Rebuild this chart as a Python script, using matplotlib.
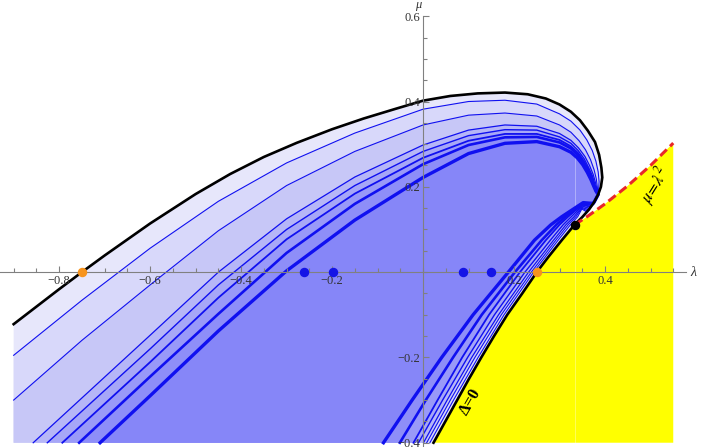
import numpy as np
import matplotlib
matplotlib.use('Agg')
import matplotlib.pyplot as plt

plt.rcParams['mathtext.fontset'] = 'stix'

# outer boundary (black): left edge -> top -> right side -> down along Delta=0
black_lam = [-0.90, -0.80, -0.75, -0.70, -0.60, -0.50, -0.424, -0.35, -0.278, -0.20, -0.131, -0.06,
             0.0, 0.06, 0.12, 0.18, 0.23, 0.27, 0.30, 0.325, 0.345, 0.362, 0.378, 0.387, 0.392,
             0.394, 0.391, 0.385, 0.376, 0.365, 0.350, 0.333,
             0.305, 0.275, 0.25, 0.218, 0.185, 0.156, 0.128, 0.101, 0.075, 0.049, 0.023]
black_mu = [-0.122, -0.040, 0.0, 0.039, 0.114, 0.183, 0.230, 0.270, 0.303, 0.335, 0.360, 0.383,
            0.402, 0.413, 0.419, 0.421, 0.417, 0.407, 0.393, 0.376, 0.356, 0.332, 0.305, 0.275, 0.245,
            0.222, 0.200, 0.182, 0.164, 0.147, 0.129, 0.111,
            0.075, 0.035, 0.0, -0.05, -0.10, -0.15, -0.20, -0.25, -0.30, -0.35, -0.40]

# blue contours, upper arcs (left/bottom edge -> top -> right side, ending on the black curve)
up_lam = [
    [-0.90, -0.75, -0.60, -0.45, -0.30, -0.15, 0.0, 0.10, 0.18, 0.25, 0.30, 0.325, 0.345, 0.36, 0.372, 0.380, 0.385, 0.387, 0.386, 0.385, 0.376],
    [-0.90, -0.75, -0.60, -0.45, -0.30, -0.15, 0.0, 0.10, 0.18, 0.25, 0.30, 0.325, 0.343, 0.357, 0.368, 0.376, 0.381, 0.383, 0.385, 0.376],
    [-0.857, -0.60, -0.45, -0.30, -0.15, 0.0, 0.10, 0.18, 0.25, 0.30, 0.325, 0.342, 0.356, 0.366, 0.374, 0.379, 0.382, 0.385, 0.376],
    [-0.826, -0.60, -0.45, -0.30, -0.15, 0.0, 0.10, 0.18, 0.25, 0.30, 0.325, 0.341, 0.354, 0.364, 0.372, 0.377, 0.381, 0.385, 0.376],
    [-0.793, -0.60, -0.45, -0.30, -0.15, 0.0, 0.10, 0.18, 0.25, 0.30, 0.325, 0.341, 0.353, 0.363, 0.371, 0.376, 0.380, 0.385, 0.376],
    [-0.756, -0.60, -0.45, -0.30, -0.15, 0.0, 0.10, 0.18, 0.25, 0.30, 0.325, 0.340, 0.352, 0.362, 0.370, 0.375, 0.380, 0.385, 0.376],
    [-0.71, -0.60, -0.45, -0.30, -0.15, 0.0, 0.10, 0.18, 0.25, 0.30, 0.325, 0.339, 0.351, 0.361, 0.369, 0.375, 0.380, 0.385, 0.376],
]
up_mu = [
    [-0.195, -0.066, 0.056, 0.166, 0.256, 0.326, 0.382, 0.400, 0.403, 0.394, 0.371, 0.354, 0.333, 0.310, 0.285, 0.260, 0.235, 0.212, 0.195, 0.182, 0.164],
    [-0.300, -0.160, -0.030, 0.097, 0.203, 0.283, 0.345, 0.368, 0.373, 0.366, 0.345, 0.328, 0.308, 0.287, 0.264, 0.240, 0.218, 0.200, 0.182, 0.164],
    [-0.40, -0.148, 0.0, 0.125, 0.223, 0.298, 0.333, 0.345, 0.342, 0.325, 0.309, 0.291, 0.271, 0.250, 0.229, 0.210, 0.195, 0.182, 0.164],
    [-0.40, -0.180, -0.030, 0.100, 0.203, 0.283, 0.320, 0.334, 0.333, 0.317, 0.302, 0.285, 0.266, 0.245, 0.226, 0.208, 0.193, 0.182, 0.164],
    [-0.40, -0.211, -0.060, 0.077, 0.184, 0.268, 0.308, 0.324, 0.324, 0.310, 0.295, 0.279, 0.261, 0.242, 0.223, 0.206, 0.192, 0.182, 0.164],
    [-0.40, -0.245, -0.098, 0.045, 0.160, 0.253, 0.298, 0.316, 0.317, 0.304, 0.290, 0.275, 0.258, 0.239, 0.221, 0.205, 0.191, 0.182, 0.164],
    [-0.40, -0.290, -0.138, 0.003, 0.122, 0.222, 0.278, 0.302, 0.306, 0.294, 0.281, 0.268, 0.252, 0.234, 0.217, 0.202, 0.190, 0.182, 0.164],
]
# where each contour leaves the black curve again, and the top of its hook
join_lam = [0.360, 0.362, 0.364, 0.366, 0.369, 0.372, 0.374]
join_mu = [0.141, 0.143, 0.146, 0.149, 0.153, 0.158, 0.161]
hook_lam = [0.349, 0.349, 0.349, 0.350, 0.350, 0.351, 0.352]
hook_mu = [0.148, 0.150, 0.152, 0.155, 0.158, 0.160, 0.163]
# lower arcs (below the hook -> bottom edge), mu levels shared
low_mu = [0.13, 0.111, 0.075, 0.0, -0.10, -0.20, -0.30, -0.40]
low_lam = [
    [0.340, 0.324, 0.297, 0.243, 0.178, 0.121, 0.067, 0.015],
    [0.336, 0.319, 0.292, 0.238, 0.172, 0.114, 0.060, 0.008],
    [0.332, 0.314, 0.287, 0.232, 0.166, 0.107, 0.053, 0.001],
    [0.326, 0.308, 0.280, 0.224, 0.157, 0.098, 0.043, -0.010],
    [0.319, 0.300, 0.270, 0.213, 0.145, 0.086, 0.032, -0.021],
    [0.313, 0.293, 0.261, 0.202, 0.129, 0.066, 0.006, -0.051],
    [0.305, 0.281, 0.245, 0.1875, 0.110, 0.041, -0.024, -0.087],
]
line_w = [0.8, 0.8, 0.9, 1.0, 1.3, 1.9, 2.4]
fill_c = ['#d8d8fa', '#c7c7f7', '#b6b6f7', '#a7a7f7', '#9999f8', '#8e8ef8', '#8686f8']

# mu = lambda^2 (red dashed)
red_lam = [1/3, 0.36, 0.40, 0.45, 0.50, 0.55]
red_mu = [0.1111, 0.1296, 0.16, 0.2025, 0.25, 0.3025]

# points on the lambda axis
orange_lam = [-0.75, 0.25]
blue_lam = [-0.2615, -0.197, 0.087, 0.15]
tip_pt = (1/3, 1/9)

fig = plt.figure(figsize=(7.01, 4.47), dpi=100)
ax = fig.add_axes([0, 0, 1, 1])
ax.set_xlim(-0.93, 0.611)
ax.set_ylim(-0.41, 0.638)

LEFT, BOTTOM, RIGHT = -0.90, -0.40, 0.55

# outer region
ax.fill([LEFT] + black_lam + [LEFT], [BOTTOM] + black_mu + [BOTTOM],
        color='#e7e7fb', lw=0, zorder=1)

curves = []
for i in range(len(up_lam)):
    xs = up_lam[i] + [join_lam[i], hook_lam[i]] + low_lam[i]
    ys = up_mu[i] + [join_mu[i], hook_mu[i]] + low_mu
    curves.append((xs, ys))
    start = up_mu[i][0] if up_lam[i][0] == LEFT else BOTTOM
    ax.fill([LEFT] + xs + [LEFT], [start] + ys + [BOTTOM], color=fill_c[i], lw=0, zorder=2 + i)

for i, (xs, ys) in enumerate(curves):
    ax.plot(xs, ys, color='#1010f0', lw=line_w[i], zorder=12, solid_joinstyle='round')

# yellow region, Delta > 0 side
k = black_lam.index(0.333)
ylam = black_lam[k:] + [RIGHT, RIGHT] + red_lam[::-1]
ymu = black_mu[k:] + [BOTTOM, red_mu[-1]] + red_mu[::-1]
ax.fill(ylam, ymu, color='#ffff00', lw=0, zorder=11)
ax.plot([1/3, 1/3], [BOTTOM, 0.30], color='white', lw=0.7, alpha=0.35, zorder=11.5)

ax.plot(black_lam, black_mu, color='black', lw=1.9, zorder=14, solid_joinstyle='round')
ax.plot(red_lam, red_mu, color='#e8262a', lw=2.2, ls=(0, (3, 1.5)), zorder=14)

ax.plot(orange_lam, [0] * len(orange_lam), 'o', color='#f7941d', ms=5.8, zorder=16)
ax.plot(blue_lam, [0] * len(blue_lam), 'o', color='#1414e6', ms=5.8, zorder=16)
ax.plot(*tip_pt, 'o', color='black', ms=5.8, zorder=16)

ax.text(0.51, 0.204, r'$\mu\!=\!\lambda^2$', rotation=58, ha='center', va='center',
        fontsize=12, zorder=17)
ax.text(0.103, -0.305, '\u0394=0', rotation=60, ha='center', va='center',
        fontsize=12, family='Liberation Serif', weight='bold', zorder=17)

# axes through the origin
for s in ['top', 'right']:
    ax.spines[s].set_visible(False)
ax.spines['left'].set_position(('data', 0))
ax.spines['bottom'].set_position(('data', 0))
ax.spines['left'].set_bounds(-0.41, 0.6)
ax.spines['bottom'].set_bounds(-0.93, 0.578)
for s in ['left', 'bottom']:
    ax.spines[s].set_color('#808080')
    ax.spines[s].set_linewidth(0.8)
    ax.spines[s].set_zorder(15)
ax.xaxis.set_zorder(15)
ax.yaxis.set_zorder(15)

ax.set_xticks([-0.8, -0.6, -0.4, -0.2, 0.2, 0.4])
ax.set_xticklabels(['\u22120.8', '\u22120.6', '\u22120.4', '\u22120.2', '0.2', '0.4'])
ax.set_yticks([-0.4, -0.2, 0.2, 0.4, 0.6])
ax.set_yticklabels(['\u22120.4', '\u22120.2', '0.2', '0.4', '0.6'])
ax.set_xticks(np.arange(-0.9, 0.58, 0.05), minor=True)
ax.set_yticks(np.arange(-0.4, 0.61, 0.05), minor=True)
ax.tick_params(which='both', direction='in', color='#808080', width=0.8,
               labelsize=9, labelcolor='#333333', pad=2)
ax.tick_params(which='major', length=4.5)
ax.tick_params(which='minor', length=2.8)
for lab in ax.get_xticklabels() + ax.get_yticklabels():
    lab.set_family('Liberation Serif')

ax.text(0.594, 0.0, '\u03bb', style='italic', family='Liberation Serif', fontsize=10,
        ha='center', va='center', color='#333333')
ax.text(-0.011, 0.627, '\u03bc', style='italic', family='Liberation Serif', fontsize=9,
        ha='center', va='center', color='#333333')

fig.savefig('out.png', dpi=100)
